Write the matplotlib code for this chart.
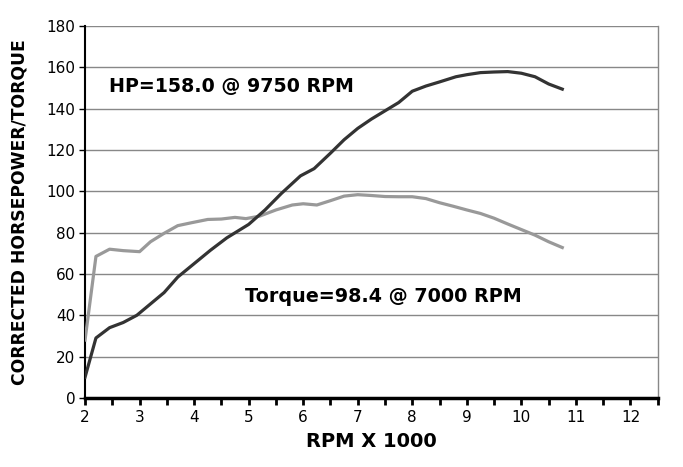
import numpy as np
from matplotlib import pyplot as plt, rcParams
from matplotlib.ticker import MultipleLocator

rcParams['font.family'] = 'DejaVu Sans'

# 数据
hp_rpm = [2.0, 2.2, 2.45, 2.7, 2.95, 3.2, 3.45, 3.7, 4.0, 4.3, 4.6, 5.0, 5.3, 5.6, 5.95,
          6.2, 6.5, 6.75, 7.0, 7.25, 7.5, 7.75, 8.0, 8.25, 8.5, 8.8, 9.0, 9.25, 9.5,
          9.75, 10.0, 10.25, 10.5, 10.75]
hp = [10, 29, 34, 36.5, 40, 45.5, 51, 58.5, 65, 71.5, 77.5, 84, 91, 99, 107.5,
      111, 118.5, 125, 130.5, 135, 139, 143, 148.5, 151, 153, 155.5, 156.5, 157.5, 157.8,
      158, 157.2, 155.5, 152, 149.5]

tq_rpm = [2.0, 2.2, 2.45, 2.7, 3.0, 3.2, 3.45, 3.7, 3.95, 4.25, 4.5, 4.75, 4.95, 5.2,
          5.5, 5.8, 6.0, 6.25, 6.5, 6.75, 7.0, 7.25, 7.5, 7.75, 8.0, 8.25, 8.5, 8.75,
          9.0, 9.25, 9.5, 9.75, 10.0, 10.25, 10.5, 10.75]
torque = [28, 68.5, 72, 71.3, 70.8, 75.6, 79.7, 83.4, 84.8, 86.4, 86.6, 87.4, 86.8, 88,
          91, 93.4, 94, 93.4, 95.5, 97.7, 98.4, 98, 97.5, 97.4, 97.4, 96.5, 94.5, 92.8,
          91, 89.3, 87, 84.2, 81.5, 78.8, 75.6, 72.8]

x_ticks = list(range(2, 13))
y_ticks = list(range(0, 181, 20))

fig = plt.figure(figsize=(6.83, 4.67), dpi=100)
ax = fig.add_axes([0.1245, 0.148, 0.8385, 0.796])

ax.plot(tq_rpm, torque, color='#999999', lw=2.3, zorder=3)
ax.plot(hp_rpm, hp, color='#333333', lw=2.3, zorder=4)

ax.set_xlim(2, 12.5)
ax.set_ylim(0, 180)
ax.set_xticks(x_ticks)
ax.set_xticklabels([str(v) for v in x_ticks])
ax.xaxis.set_minor_locator(MultipleLocator(0.5))
ax.set_yticks(y_ticks)
ax.grid(axis='y', color='#888888', lw=1)
ax.set_axisbelow(True)

ax.spines['top'].set_visible(False)
ax.spines['right'].set_color('#888888')
ax.spines['right'].set_linewidth(1)
ax.spines['left'].set_color('black')
ax.spines['left'].set_linewidth(1.5)
ax.spines['bottom'].set_color('black')
ax.spines['bottom'].set_linewidth(2.5)

ax.tick_params(axis='x', which='both', direction='out', length=5, width=2, labelsize=11, pad=4)
ax.tick_params(axis='y', direction='out', length=4, width=1, labelsize=11, pad=3)

ax.set_xlabel('RPM X 1000', fontsize=14, fontweight='bold', labelpad=5)
ax.set_ylabel('CORRECTED HORSEPOWER/TORQUE', fontsize=12.3, fontweight='bold', labelpad=13)

ax.text(2.44, 151, 'HP=158.0 @ 9750 RPM', fontsize=13.7, fontweight='bold', va='center', ha='left')
ax.text(4.93, 49, 'Torque=98.4 @ 7000 RPM', fontsize=13.8, fontweight='bold', va='center', ha='left')

plt.savefig('out.png', dpi=100)
